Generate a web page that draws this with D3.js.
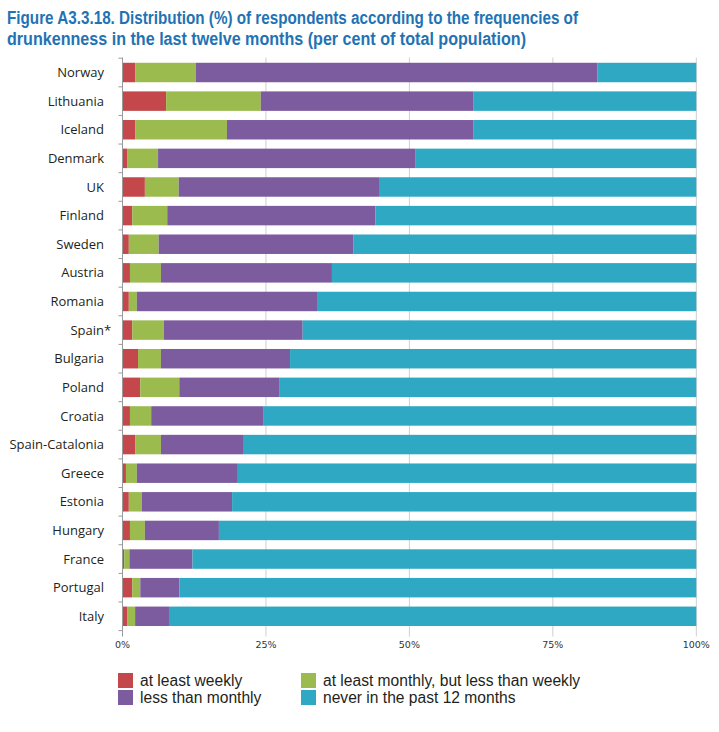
<!DOCTYPE html>
<html>
<head>
<meta charset="utf-8">
<script src="https://cdn.jsdelivr.net/npm/d3@7"></script>
<style>
  html, body { margin: 0; padding: 0; background: #ffffff; }
  svg { display: block; }
</style>
</head>
<body>
<svg id="chart" width="719" height="732"></svg>
<script>
const countries = ["Norway","Lithuania","Iceland","Denmark","UK","Finland","Sweden","Austria","Romania","Spain*","Bulgaria","Poland","Croatia","Spain-Catalonia","Greece","Estonia","Hungary","France","Portugal","Italy"];
const atLeastWeekly   = [2.2, 7.6, 2.2, 0.8, 3.9, 1.7, 1.1, 1.3, 1.1, 1.7, 2.7, 3.1, 1.3, 2.2, 0.6, 1.1, 1.3, 0.3, 1.7, 0.8];
const atLeastMonthly  = [10.6, 16.5, 16.0, 5.4, 5.9, 6.1, 5.2, 5.4, 1.4, 5.5, 4.0, 6.8, 3.7, 4.5, 1.9, 2.3, 2.6, 0.9, 1.4, 1.4];
const lessThanMonthly = [70.0, 37.1, 43.0, 44.9, 34.9, 36.3, 33.9, 29.8, 31.4, 24.2, 22.5, 17.5, 19.5, 14.3, 17.6, 15.7, 12.9, 11.0, 6.8, 5.9];
const neverPast12     = [17.2, 38.8, 38.8, 48.9, 55.3, 55.9, 59.8, 63.5, 66.1, 68.6, 70.8, 72.6, 75.5, 79.0, 79.9, 80.9, 83.2, 87.8, 90.1, 91.9];
const seriesNames = ["at least weekly","at least monthly, but less than weekly","less than monthly","never in the past 12 months"];
const xTicks = [0, 25, 50, 75, 100];
const titleLines = ["Figure A3.3.18. Distribution (%) of respondents according to the frequencies of",
                    "drunkenness in the last twelve months (per cent of total population)"];

const colors = ["#c3474b", "#9bbb4f", "#7c5b9f", "#2ea8c3"];
const keys = ["w","m","l","n"];
const rows = countries.map((c, i) => ({country: c, w: atLeastWeekly[i], m: atLeastMonthly[i], l: lessThanMonthly[i], n: neverPast12[i]}));

const svg = d3.select("#chart");
const x = d3.scaleLinear().domain([0, 100]).range([122.5, 696.3]);
const y = d3.scaleBand().domain(countries).range([58.2, 630.6]).paddingInner(0.32).paddingOuter(0.16);

// Title
svg.append("g").selectAll("text").data(titleLines).join("text")
  .attr("x", 7).attr("y", (d, i) => 24 + i * 21)
  .attr("textLength", (d, i) => i === 0 ? 571 : 519)
  .attr("lengthAdjust", "spacingAndGlyphs")
  .attr("font-family", "'Liberation Sans', Arial, sans-serif")
  .attr("font-weight", "bold").attr("font-size", 18)
  .attr("fill", "#1f73b4").text(d => d);

// Grid lines
const plotTop = 57.5, plotBottom = 631.5;
svg.append("g").selectAll("line").data(xTicks.slice(1)).join("line")
  .attr("x1", d => x(d)).attr("x2", d => x(d))
  .attr("y1", plotTop).attr("y2", plotBottom + 5)
  .attr("stroke", "#cfcfcf").attr("stroke-width", 1);

// Bars
const stack = d3.stack().keys(keys)(rows);
svg.append("g").selectAll("g").data(stack).join("g")
  .attr("fill", (d, i) => colors[i])
  .selectAll("rect").data(d => d).join("rect")
  .attr("x", d => x(d[0]))
  .attr("width", d => x(d[1]) - x(d[0]))
  .attr("y", d => y(d.data.country))
  .attr("height", y.bandwidth());

// Y axis line and boundary ticks
const yAxisG = svg.append("g");
yAxisG.append("line").attr("x1", x(0)).attr("x2", x(0)).attr("y1", plotTop).attr("y2", plotBottom + 5)
  .attr("stroke", "#9a9a9a").attr("stroke-width", 1);
const boundaries = countries.map(c => y(c) - y.step() * y.paddingInner() / 2);
boundaries.push(y(countries[countries.length - 1]) + y.bandwidth() + y.step() * y.paddingInner() / 2);
yAxisG.selectAll("line.tk").data(boundaries).join("line").attr("class", "tk")
  .attr("x1", x(0) - 4).attr("x2", x(0)).attr("y1", d => d).attr("y2", d => d)
  .attr("stroke", "#9a9a9a").attr("stroke-width", 1);

// Country labels
const labels = svg.append("g").selectAll("text").data(countries).join("text")
  .attr("x", 104)
  .attr("y", d => y(d) + y.bandwidth() / 2)
  .attr("dy", "0.35em")
  .attr("text-anchor", "end")
  .attr("font-family", "'Open Sans', 'Liberation Sans', sans-serif")
  .attr("font-size", 13)
  .attr("fill", "#231f20")
  .text(d => d);
labels.each(function(d) {
  if (d.endsWith("*")) {
    const w = this.getSubStringLength(d.length - 1, 1);
    d3.select(this).attr("x", 104 + w);
  }
});

// X tick labels
svg.append("g").selectAll("text").data(xTicks).join("text")
  .attr("x", d => x(d)).attr("y", 648)
  .attr("text-anchor", "middle")
  .attr("font-family", "'DejaVu Sans', sans-serif")
  .attr("font-size", 9.5)
  .attr("fill", "#333")
  .text(d => d + "%");

// Legend
const legendPos = [[118, 673], [301, 673], [118, 690], [301, 690]];
const legend = svg.append("g").selectAll("g").data(seriesNames).join("g")
  .attr("transform", (d, i) => `translate(${legendPos[i][0]},${legendPos[i][1]})`);
legend.append("rect").attr("width", 15).attr("height", 15).attr("fill", (d, i) => colors[i]);
legend.append("text").attr("x", 22).attr("y", 12.5)
  .attr("font-family", "'Liberation Sans', Arial, sans-serif")
  .attr("font-size", 15.6).attr("fill", "#231f20")
  .text(d => d);
</script>
</body>
</html>
